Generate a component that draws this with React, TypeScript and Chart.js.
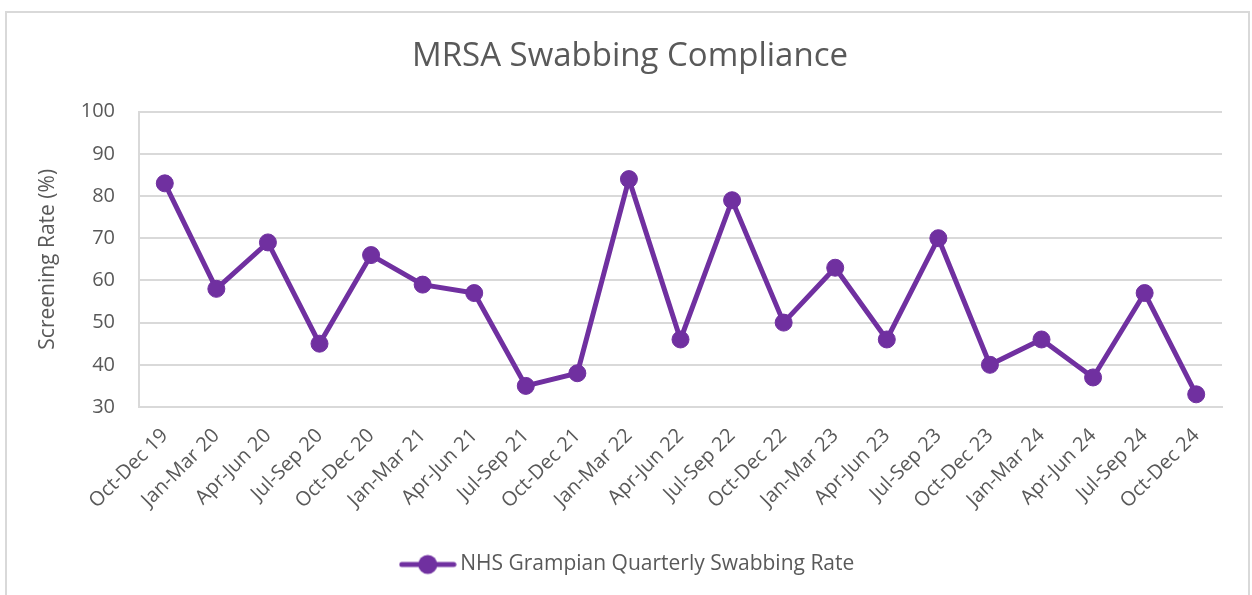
import React, { useEffect, useRef } from "react";
import { Chart, registerables } from "chart.js";

Chart.register(...registerables);

const categories = [
  "Oct-Dec 19", "Jan-Mar 20", "Apr-Jun 20", "Jul-Sep 20", "Oct-Dec 20",
  "Jan-Mar 21", "Apr-Jun 21", "Jul-Sep 21", "Oct-Dec 21", "Jan-Mar 22",
  "Apr-Jun 22", "Jul-Sep 22", "Oct-Dec 22", "Jan-Mar 23", "Apr-Jun 23",
  "Jul-Sep 23", "Oct-Dec 23", "Jan-Mar 24", "Apr-Jun 24", "Jul-Sep 24",
  "Oct-Dec 24",
];
const swabbingRate = [83, 58, 69, 45, 66, 59, 57, 35, 38, 84, 46, 79, 50, 63, 46, 70, 40, 46, 37, 57, 33];
const seriesName = "NHS Grampian Quarterly Swabbing Rate";
const chartTitle = "MRSA Swabbing Compliance";
const yAxisTitle = "Screening Rate (%)";
const yMin = 30;
const yMax = 100;
const yStep = 10;

const PURPLE = "#7030A0";
const TEXT = "#595959";
const GRID = "#d9d9d9";
const FONT = "'Open Sans', sans-serif";

function legendMarker(): HTMLCanvasElement {
  const c = document.createElement("canvas");
  c.width = 58;
  c.height = 22;
  const ctx = c.getContext("2d")!;
  ctx.strokeStyle = PURPLE;
  ctx.lineWidth = 5;
  ctx.lineCap = "round";
  ctx.beginPath();
  ctx.moveTo(3, 11);
  ctx.lineTo(55, 11);
  ctx.stroke();
  ctx.fillStyle = PURPLE;
  ctx.beginPath();
  ctx.arc(29, 11, 9.5, 0, Math.PI * 2);
  ctx.fill();
  return c;
}

export default function App() {
  const ref = useRef<HTMLCanvasElement | null>(null);
  useEffect(() => {
    if (!ref.current) return;
    const marker = legendMarker();
    const chart = new Chart(ref.current, {
      type: "line",
      data: {
        labels: categories,
        datasets: [
          {
            label: seriesName,
            data: swabbingRate,
            borderColor: PURPLE,
            backgroundColor: PURPLE,
            borderWidth: 5,
            pointRadius: 8.5,
            pointHoverRadius: 8.5,
            pointBorderWidth: 1,
            pointBackgroundColor: PURPLE,
            pointBorderColor: PURPLE,
            tension: 0,
          },
        ],
      },
      options: {
        animation: false,
        responsive: false,
        maintainAspectRatio: false,
        layout: { padding: { left: 38, right: 30, top: 0, bottom: 10 } },
        plugins: {
          title: {
            display: true,
            text: chartTitle,
            color: TEXT,
            font: { family: FONT, size: 33, weight: "normal" },
            padding: { top: 37, bottom: 35 },
          },
          legend: {
            position: "bottom",
            labels: {
              usePointStyle: true,
              pointStyleWidth: 44,
              boxHeight: 22,
              padding: 10,
              color: TEXT,
              font: { family: FONT, size: 21 },
              generateLabels: () => [
                {
                  text: seriesName,
                  pointStyle: marker as any,
                  fillStyle: PURPLE,
                  strokeStyle: PURPLE,
                  lineWidth: 0,
                  hidden: false,
                  datasetIndex: 0,
                  fontColor: TEXT,
                } as any,
              ],
            },
          },
          tooltip: { enabled: false },
        },
        scales: {
          x: {
            offset: true,
            grid: { display: false, drawTicks: false },
            border: { display: true, color: GRID, width: 2 },
            ticks: {
              color: TEXT,
              font: { family: FONT, size: 20 },
              minRotation: 45,
              maxRotation: 45,
              autoSkip: false,
              padding: 17,
            },
            afterFit: (s: any) => {
              s.height = 137;
            },
          },
          y: {
            min: yMin,
            max: yMax,
            grid: { color: GRID, lineWidth: 2, drawTicks: false },
            border: { display: true, color: GRID, width: 2 },
            ticks: {
              stepSize: yStep,
              color: TEXT,
              font: { family: FONT, size: 20 },
              padding: 24,
            },
            title: {
              display: true,
              text: yAxisTitle,
              color: TEXT,
              font: { family: FONT, size: 21 },
              padding: { top: -3, bottom: 12 },
            },
            afterFit: (s: any) => {
              s.width = 101;
            },
          },
        },
      },
    });
    return () => chart.destroy();
  }, []);
  return (
    <div style={{ position: "fixed", left: 0, top: 0, width: 1252, height: 595, background: "#fff" }}>
      <div
        style={{
          position: "absolute",
          left: 5,
          top: 11,
          width: 1245,
          height: 600,
          border: "2px solid #d9d9d9",
          boxSizing: "border-box",
        }}
      />
      <canvas ref={ref} width={1252} height={595} style={{ position: "absolute", left: 0, top: 0 }} />
    </div>
  );
}
